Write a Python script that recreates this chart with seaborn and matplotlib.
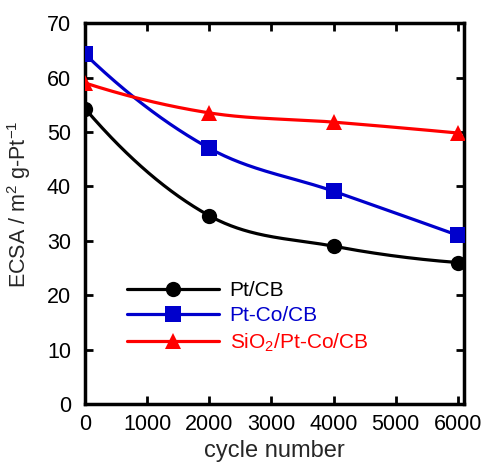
import numpy as np
import pandas as pd
import matplotlib
matplotlib.use("Agg")
import matplotlib.pyplot as plt
import seaborn as sns

cycles = [0, 2000, 4000, 6000]
pt_cb = [54.3, 34.6, 29.0, 26.0]
ptco_cb = [64.3, 47.0, 39.1, 31.0]
sio2_ptco_cb = [59.0, 53.5, 51.8, 49.8]
series_names = ["Pt/CB", "Pt-Co/CB", "SiO$_2$/Pt-Co/CB"]
colors = ["#000000", "#0000CC", "#FF0000"]
markers = ["o", "s", "^"]
msizes = [11, 11.5, 11]

sns.set_style("ticks")
plt.rcParams["font.family"] = ["Liberation Sans", "DejaVu Sans"]
plt.rcParams["mathtext.fontset"] = "custom"
plt.rcParams["mathtext.rm"] = "Liberation Sans"
plt.rcParams["mathtext.default"] = "rm"


def smooth(x, y, xs):
    # cubic Hermite through the data points (drawing only): centred tangents,
    # quadratic (Bessel) tangents at the ends
    x = np.asarray(x, float); y = np.asarray(y, float)
    n = len(x); h = np.diff(x); d = np.diff(y) / h
    m = np.empty(n)
    m[1:-1] = (y[2:] - y[:-2]) / (x[2:] - x[:-2])
    m[0] = 2 * d[0] - m[1]
    m[-1] = 2 * d[-1] - m[-2]
    idx = np.clip(np.searchsorted(x, xs) - 1, 0, n - 2)
    t = (xs - x[idx]) / h[idx]
    h00 = 2 * t**3 - 3 * t**2 + 1; h10 = t**3 - 2 * t**2 + t
    h01 = -2 * t**3 + 3 * t**2; h11 = t**3 - t**2
    return h00 * y[idx] + h10 * h[idx] * m[idx] + h01 * y[idx + 1] + h11 * h[idx] * m[idx + 1]


fig = plt.figure(figsize=(4.83, 4.62), dpi=100)
ax = fig.add_axes([0.176, 0.1255, 0.785, 0.8245])

xs = np.linspace(cycles[0], cycles[-1], 300)
for vals, name, c, mk, ms in zip([pt_cb, ptco_cb, sio2_ptco_cb], series_names, colors, markers, msizes):
    ax.plot(xs, smooth(cycles, vals, xs), color=c, lw=2.3, zorder=2)
    df = pd.DataFrame({"x": cycles, "y": vals})
    sns.lineplot(data=df, x="x", y="y", ax=ax, color=c, lw=0, marker=mk,
                 markersize=ms, markeredgewidth=0, zorder=3)
    ax.plot([], [], color=c, lw=2.3, marker=mk, markersize=ms, markeredgewidth=0, label=name)

ax.set_xlim(0, 6100)
ax.set_ylim(0, 70)
ax.set_xticks(range(0, 6001, 1000))
ax.set_yticks(range(0, 71, 10))
ax.tick_params(direction="in", length=6, width=2, top=True, right=True,
               labelsize=15.5, pad=7, colors="black")
ax.tick_params(axis="y", pad=10)
for s in ax.spines.values():
    s.set_linewidth(2.5)
    s.set_color("black")
ax.set_xlabel("cycle number", fontsize=17, labelpad=4)
ax.set_ylabel("ECSA / m$^2$ g-Pt$^{\\mathrm{-1}}$", fontsize=15.5)
ax.yaxis.set_label_coords(-0.137, 0.525)

leg = ax.legend(loc="lower left", bbox_to_anchor=(0.09, 0.11), frameon=False,
                handlelength=4.4, handletextpad=0.5, labelspacing=0.3,
                fontsize=15, labelcolor="linecolor", borderaxespad=0)

fig.savefig("out.png", dpi=100)
